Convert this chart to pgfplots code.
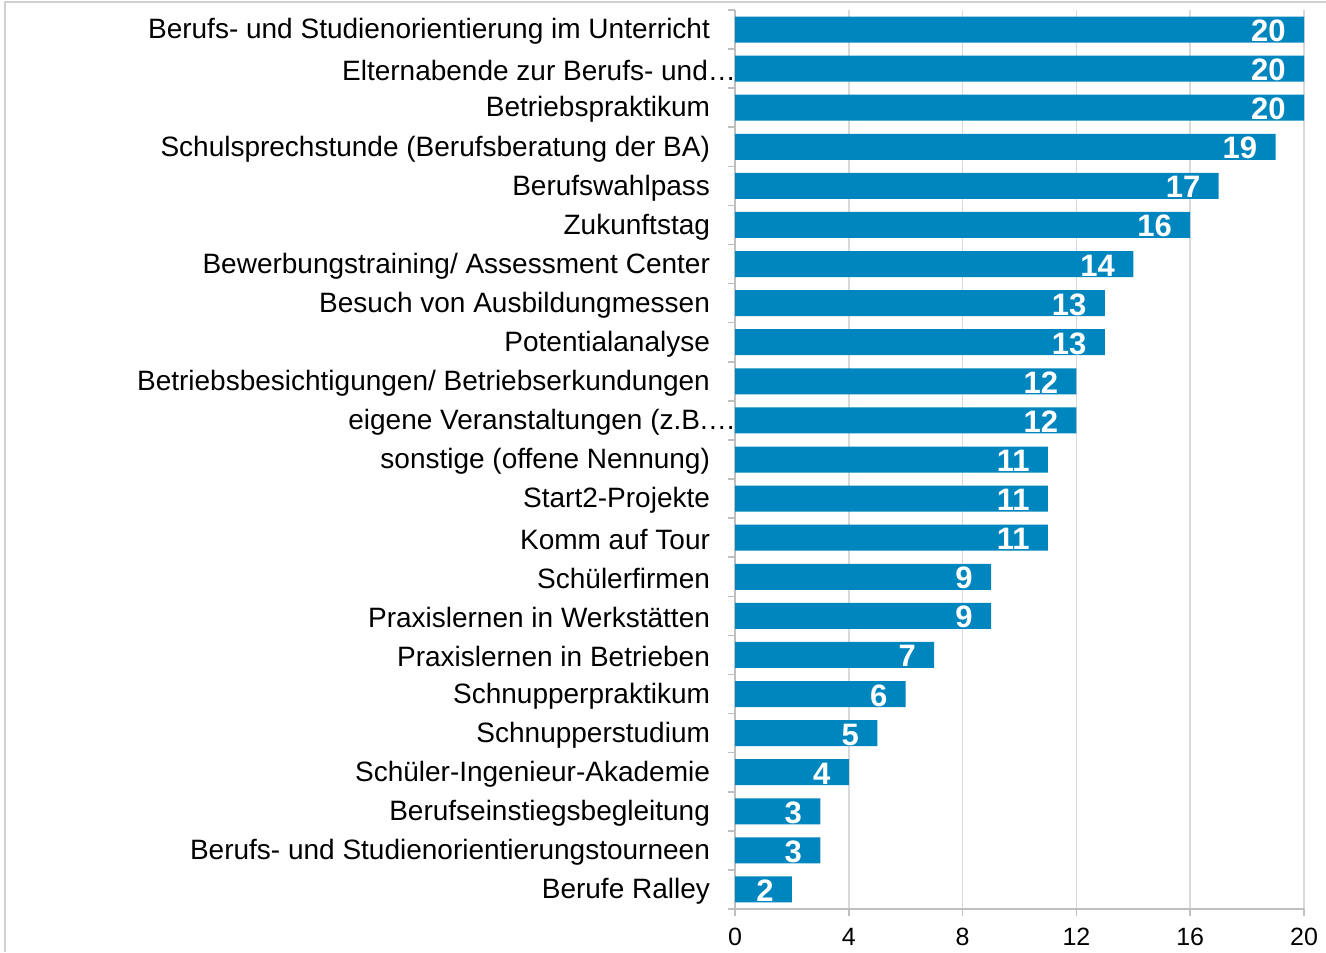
\documentclass[border=0pt]{standalone}
\usepackage{pgfplots}
\pgfplotsset{compat=1.18}
\usepackage{fontspec}
\setmainfont{Liberation Sans}
\definecolor{barblue}{HTML}{0086BF}
\definecolor{gridgray}{HTML}{D9D9D9}
\definecolor{axgray}{HTML}{BFBFBF}
\definecolor{framegray}{HTML}{D0D0D0}
\begin{document}
\begin{tikzpicture}
\path[use as bounding box] (0,0) rectangle (663pt,476pt);
\draw[framegray, line width=1pt] (2.5pt,0) -- (2.5pt,475pt) -- (663pt,475pt);
\begin{axis}[
  at={(367.5pt,21.5pt)}, anchor=south west,
  scale only axis, width=284.5pt, height=449.5pt,
  xbar, bar width=13pt,
  xmin=0, xmax=20,
  ymin=-0.5, ymax=22.5, y dir=reverse,
  axis x line*=bottom, axis y line*=left,
  axis line style={axgray, line width=0.8pt},
  xtick={0,4,...,20},
  xmajorgrids, grid style={gridgray, line width=0.8pt},
  ytick={0,...,22},
  yticklabels={
    Berufs- und Studienorientierung im Unterricht,
    Elternabende zur Berufs- und…\kern-13pt,
    Betriebspraktikum,
    Schulsprechstunde (Berufsberatung der BA),
    Berufswahlpass,
    Zukunftstag,
    Bewerbungstraining/ Assessment Center,
    Besuch von Ausbildungmessen,
    Potentialanalyse,
    Betriebsbesichtigungen/ Betriebserkundungen,
    eigene Veranstaltungen (z.B.…\kern-13pt,
    sonstige (offene Nennung),
    Start2-Projekte,
    Komm auf Tour,
    Schülerfirmen,
    Praxislernen in Werkstätten,
    Praxislernen in Betrieben,
    Schnupperpraktikum,
    Schnupperstudium,
    Schüler-Ingenieur-Akademie,
    Berufseinstiegsbegleitung,
    Berufs- und Studienorientierungstourneen,
    Berufe Ralley},
  y tick label style={font=\fontsize{14pt}{16pt}\selectfont, xshift=-9pt, yshift=-1pt},
  x tick label style={font=\fontsize{12.5pt}{14pt}\selectfont, yshift=-6pt},
  /pgf/number format/assume math mode=true,
  major tick length=0pt,
  extra y ticks={-0.5,0.5,...,22.5},
  extra y tick labels={},
  extra y tick style={major tick length=3.5pt, tick align=outside, tick style={axgray, line width=0.8pt}},
  extra x ticks={0,4,...,20},
  extra x tick labels={},
  extra x tick style={major tick length=3.5pt, tick align=outside, tick style={axgray, line width=0.8pt}, grid=none},
  nodes near coords,
  every node near coord/.append style={anchor=base east, inner sep=0pt, xshift=-9pt, yshift=-6pt, text=white, font=\fontsize{15.5pt}{17pt}\selectfont\bfseries},
  clip=false,
]
\addplot[fill=barblue, draw=none] coordinates {
(20,0) (20,1) (20,2) (19,3) (17,4) (16,5) (14,6) (13,7) (13,8) (12,9) (12,10)
(11,11) (11,12) (11,13) (9,14) (9,15) (7,16) (6,17) (5,18) (4,19) (3,20) (3,21) (2,22)
};
\end{axis}
\end{tikzpicture}
\end{document}
